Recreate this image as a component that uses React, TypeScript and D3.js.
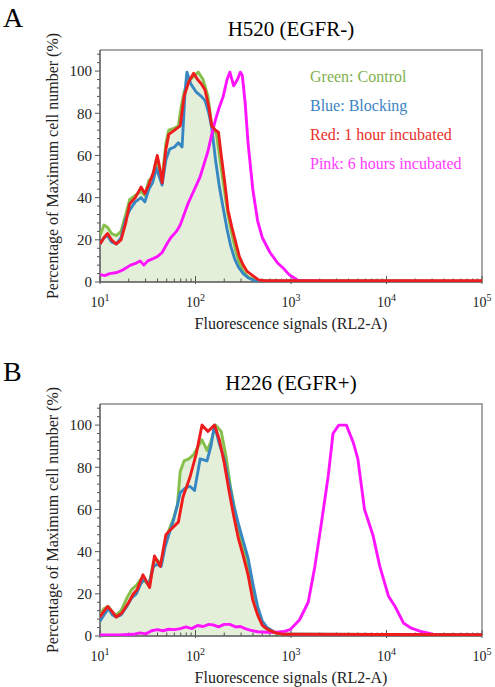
import React from 'react'
import * as d3 from 'd3'

type Pt = [number, number]

const panelTitles = ['H520 (EGFR-)', 'H226 (EGFR+)']
const panelLetters = ['A', 'B']
const legendLabels = ['Green: Control', 'Blue: Blocking', 'Red: 1 hour incubated', 'Pink: 6 hours incubated']
const xTickExponents = [1, 2, 3, 4, 5]
const yTickValues = [0, 20, 40, 60, 80, 100]
const yAxisTitle = 'Percentage of Maximum cell number (%)'
const xAxisTitle = 'Fluorescence signals (RL2-A)'

// H520 histograms: [fluorescence (RL2-A), % of max]
const h520Control: Pt[] = [[10,22],[11,27],[12,26],[13.2,23],[14.8,22],[16.6,24],[18.6,32],[20.4,39],[23.4,41],[26.9,43],[29.5,41],[32.4,48],[35.5,50],[38.9,58],[41.7,52],[44.7,49],[49,66],[52.5,72],[60.3,73],[66.1,74],[70.8,83],[75.9,90],[83.2,95],[93.3,97],[107,99.5],[120,96],[135,88],[148,74],[166,70],[182,57],[200,44],[219,32],[240,23],[263,15],[288,9],[316,5],[355,2.5],[417,1],[501,0.4],[100000,0.4]]
const h520Blocking: Pt[] = [[10,18],[11,21],[12,22],[13.2,19],[14.8,18],[16.6,21],[18.6,30],[20.4,34],[23.4,38],[26.9,40],[29.5,38],[32.4,44],[35.5,47],[38.9,54],[41.7,50],[44.7,46],[49,58],[53.7,63],[60.3,64],[66.1,66],[72.4,64],[77.6,90],[81.3,99.5],[89.1,94],[102,90],[115,88],[126,86],[138,80],[148,73],[162,58],[178,45],[195,35],[214,25],[234,17],[257,11],[282,7],[316,4],[355,2],[417,0.6],[100000,0.4]]
const h520OneHour: Pt[] = [[10,18],[11,21],[12,23],[13.2,20],[14.8,18],[16.6,20],[18.6,28],[20.4,37],[23.4,40],[26.9,45],[29.5,42],[32.4,46],[36.3,52],[39.8,60],[42.7,53],[44.7,47],[49,63],[52.5,70],[60.3,72],[69.2,74],[75.9,88],[85.1,95],[95.5,99],[105,96],[115,94],[126,91],[138,83],[148,74],[162,72],[174,71],[186,60],[204,46],[219,34],[240,26],[263,19],[288,12],[316,8],[347,5],[398,3],[457,1],[525,0.6],[100000,0.6]]
const h520SixHours: Pt[] = [[10,3.5],[11.2,3],[12.6,4],[15.1,4.5],[17.8,6],[20.9,8],[24,9],[26.3,10],[28.8,8],[31.6,10],[35.5,11],[39.8,12],[44.7,14],[50.1,18],[55,21],[63.1,24],[69.2,27],[75.9,32],[83.2,37],[91.2,41],[100,45],[112,50],[123,56],[135,62],[148,70],[162,77],[178,83],[195,88],[214,96],[229,99.5],[251,93],[275,96],[295,99.5],[309,98],[331,85],[355,66],[398,44],[447,29],[501,21],[603,14],[724,9],[832,6.5],[955,3.5],[1072,2],[1202,0.6],[2000,0.4]]

// H226 histograms
const h226Control: Pt[] = [[10,10],[11,13],[12.3,14],[13.5,11],[14.8,10],[16.6,12],[19.1,18],[21.4,22],[24,24],[26.9,27],[29.5,26],[32.4,24],[36.3,35],[39.8,36],[43.7,34],[47.9,44],[52.5,50],[58.9,56],[64.6,62],[69.2,78],[75.9,83],[85.1,84],[95.5,86],[107,90],[117,93],[132,88],[145,92],[162,100],[186,97],[209,85],[234,70],[263,58],[295,47],[331,38],[372,27],[417,15],[468,8],[525,4],[631,2],[794,0.8],[100000,0.6]]
const h226Blocking: Pt[] = [[10,7],[11,10],[12.3,13],[13.5,10],[14.8,9],[16.6,10],[19.1,14],[21.4,18],[24,20],[26.9,25],[29.5,27],[32.4,24],[36.3,33],[39.8,34],[43.7,33],[47.9,42],[52.5,48],[58.9,55],[64.6,62],[69.2,68],[77.6,70],[87.1,71],[97.7,69],[112,84],[132,83],[145,90],[158,100],[178,91],[200,84],[224,73],[251,62],[282,53],[316,45],[355,37],[398,25],[447,14],[501,7],[562,4],[661,2],[832,0.8],[100000,0.6]]
const h226OneHour: Pt[] = [[10,9],[10.7,11],[12,14],[13.2,12],[14.8,9],[17,11],[20,16],[22.4,20],[24.5,22],[28.2,29],[33.1,23],[37.2,38],[42.7,33],[49,48],[53.7,50],[66.1,54],[74.1,66],[87.1,75],[102,86.5],[117,100],[135,97],[158,100],[178,93],[200,82],[224,69],[251,57],[282,46],[316,38],[355,29],[398,17],[447,10],[501,5],[575,3],[692,1.5],[832,0.8],[100000,0.6]]
const h226SixHours: Pt[] = [[10,0.5],[15.8,0.5],[22.4,0.8],[26.3,1.5],[30.2,1],[34.7,2.5],[39.8,3],[45.7,2.5],[52.5,3.2],[60.3,3],[69.2,3.5],[79.4,4.3],[91.2,3.5],[105,5],[120,4.5],[138,5.5],[155,5.2],[174,4.3],[200,5.5],[229,5.5],[263,4.3],[295,4.5],[331,3.5],[372,2.8],[447,2],[562,1.8],[708,1.8],[851,2.2],[977,3],[1230,7.7],[1514,16],[1778,33],[2089,54],[2455,76],[2754,96],[3162,100],[3802,100],[4467,92],[5012,84],[5888,60],[7244,47.5],[8511,33],[10470,19],[12300,14],[15140,6],[18200,3.7],[23440,2],[27540,1.3],[31620,0.5]]

const colors = { control: '#86c04a', blocking: '#3787c2', oneHour: '#ee1c1c', sixHours: '#ff14ff', fill: '#e4efd9' }
const legendColors = ['#7fb24e', '#3a84c4', '#e8302a', '#ff3cff']
const serif = '"Liberation Serif", "Times New Roman", serif'

const plotLeft = 100
const plotRight = 482
const plotHeight = 232
const panelTops = [50, 404]

type PanelProps = {
  top: number
  title: string
  letter: string
  series: Pt[][]
  showLegend: boolean
  id: string
}

function Panel({ top, title, letter, series, showLegend, id }: PanelProps) {
  const [control, blocking, oneHour, sixHours] = series
  const x = d3.scaleLog().domain([10, 1e5]).range([plotLeft, plotRight])
  const y = d3.scaleLinear().domain([0, 110]).range([top + plotHeight, top])
  const line = d3.line<Pt>().x(d => x(d[0])).y(d => y(d[1]))
  const area = d3.area<Pt>().x(d => x(d[0])).y0(y(0)).y1(d => y(d[1]))
  const bottom = y(0)

  const xTicks = x.ticks()
  const yMinor = d3.range(0, 111, 4)

  return (
    <g>
      <text x={3} y={top - 23} fontSize={28} fontFamily={serif}>{letter}</text>
      <text x={(plotLeft + plotRight) / 2} y={top - 14} textAnchor="middle" fontSize={21} fontFamily={serif}>{title}</text>

      <clipPath id={id}>
        <rect x={plotLeft} y={top - 2} width={plotRight - plotLeft} height={plotHeight + 2} />
      </clipPath>

      <path d={area(control) ?? ''} fill={colors.fill} clipPath={`url(#${id})`} />

      {/* frame */}
      <path d={`M${plotLeft},${top}H${plotRight}V${bottom}`} fill="none" stroke="#8c8c8c" strokeWidth={1.5} />

      {/* x ticks point inward */}
      {xTicks.map(t => {
        const major = Math.abs(Math.log10(t) - Math.round(Math.log10(t))) < 1e-9
        return <line key={t} x1={x(t)} x2={x(t)} y1={bottom + (major ? 2 : 0)} y2={bottom - (major ? 6 : 3.5)} stroke="#555" strokeWidth={1} />
      })}
      {xTickExponents.map(e => (
        <text key={e} x={x(10 ** e)} y={bottom + 25} textAnchor="middle" fontSize={14} fontFamily={serif} fill="#222">
          10<tspan dy={-6} fontSize={10}>{e}</tspan>
        </text>
      ))}

      {/* y ticks point outward */}
      {yMinor.map(v => {
        const major = v % 20 === 0
        return <line key={v} x1={plotLeft} x2={plotLeft - (major ? 5 : 3)} y1={y(v)} y2={y(v)} stroke="#555" strokeWidth={1} />
      })}
      {yTickValues.map(v => (
        <text key={v} x={92} y={y(v)} dy="0.35em" textAnchor="end" fontSize={15} fontFamily={serif} fill="#222">{v}</text>
      ))}

      <line x1={plotLeft} x2={plotLeft} y1={top} y2={bottom} stroke="#555" strokeWidth={1.5} />
      <line x1={plotLeft} x2={plotRight} y1={bottom} y2={bottom} stroke="#555" strokeWidth={1.5} />

      <g clipPath={`url(#${id})`} fill="none" strokeWidth={2.9} strokeLinejoin="round">
        <path d={line(control) ?? ''} stroke={colors.control} />
        <path d={line(blocking) ?? ''} stroke={colors.blocking} />
        <path d={line(sixHours) ?? ''} stroke={colors.sixHours} />
        <path d={line(oneHour) ?? ''} stroke={colors.oneHour} />
      </g>

      <text transform={`translate(58,${top + plotHeight / 2}) rotate(-90)`} textAnchor="middle" fontSize={16} fontFamily={serif} fill="#222">{yAxisTitle}</text>
      <text x={(plotLeft + plotRight) / 2} y={bottom + 47} textAnchor="middle" fontSize={16} fontFamily={serif} fill="#222">{xAxisTitle}</text>

      {showLegend && legendLabels.map((label, i) => (
        <text key={label} x={310} y={top + 32 + i * 29} fontSize={16} fontFamily={serif} fill={legendColors[i]}>{label}</text>
      ))}
    </g>
  )
}

export default function App() {
  const panels = [
    [h520Control, h520Blocking, h520OneHour, h520SixHours],
    [h226Control, h226Blocking, h226OneHour, h226SixHours],
  ]
  return (
    <svg width={495} height={687} style={{ position: 'absolute', left: 0, top: 0, background: '#fff' }}>
      {panels.map((series, i) => (
        <Panel
          key={i}
          id={`plot-clip-${i}`}
          top={panelTops[i]}
          title={panelTitles[i]}
          letter={panelLetters[i]}
          series={series}
          showLegend={i === 0}
        />
      ))}
    </svg>
  )
}
